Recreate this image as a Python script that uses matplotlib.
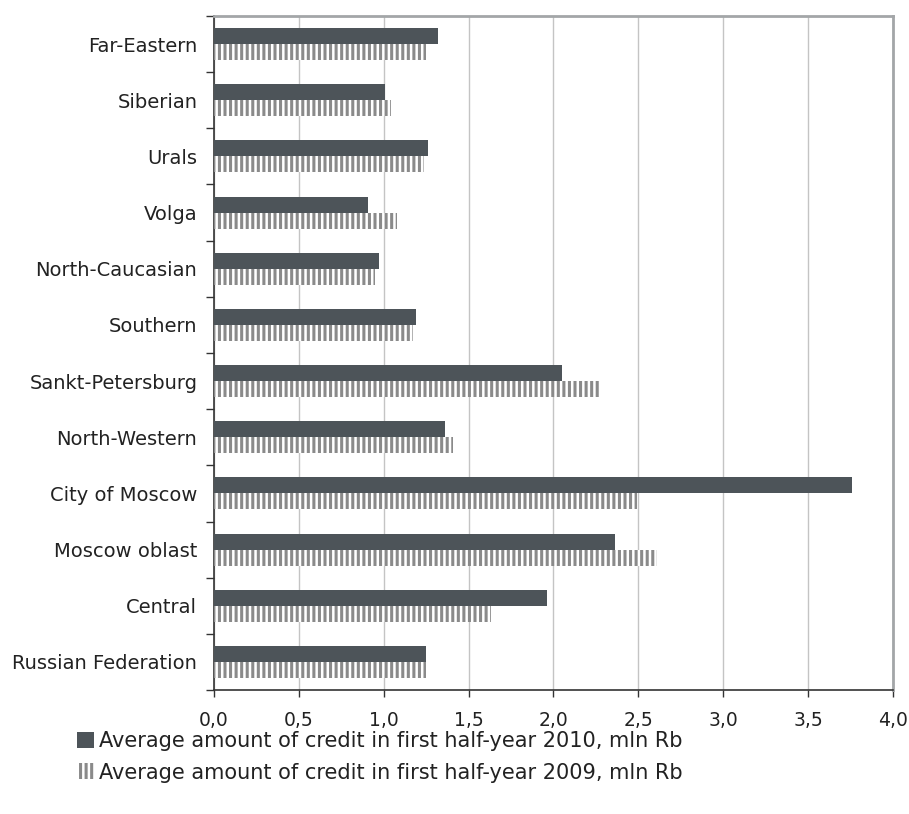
import matplotlib.pyplot as plt
import matplotlib.patches as mpatches
from matplotlib.ticker import MultipleLocator, FuncFormatter
import numpy as np

# Regions listed bottom-to-top (as they stack on the y axis)
regions = ["Russian Federation", "Central", "Moscow oblast", "City of Moscow",
           "North-Western", "Sankt-Petersburg", "Southern", "North-Caucasian",
           "Volga", "Urals", "Siberian", "Far-Eastern"]
credit_2010 = [1.25, 1.96, 2.36, 3.76, 1.36, 2.05, 1.19, 0.97, 0.91, 1.26, 1.01, 1.32]
credit_2009 = [1.25, 1.63, 2.61, 2.49, 1.41, 2.27, 1.17, 0.95, 1.08, 1.24, 1.04, 1.25]

label_2010 = "Average amount of credit in first half-year 2010, mln Rb"
label_2009 = "Average amount of credit in first half-year 2009, mln Rb"

dark = '#4d5459'
stripe = '#8a8a8a'

plt.rcParams['font.family'] = ['DejaVu Sans']
plt.rcParams['hatch.linewidth'] = 2.2

fig = plt.figure(figsize=(9.09, 8.14), dpi=100)
ax = fig.add_axes([0.2354, 0.1523, 0.747, 0.8281])

y = np.arange(len(regions))
h = 0.285

ax.barh(y + h / 2, credit_2010, height=h, color=dark, zorder=3)
ax.barh(y - h / 2, credit_2009, height=h, facecolor='white', edgecolor=stripe,
        hatch='|||', linewidth=0, zorder=3)

ax.set_xlim(0, 4.0)
ax.set_ylim(-0.5, len(regions) - 0.5)

# x axis: 0.5 steps with comma decimals
ax.xaxis.set_major_locator(MultipleLocator(0.5))
ax.xaxis.set_major_formatter(FuncFormatter(lambda v, p: ('%.1f' % v).replace('.', ',')))
ax.grid(axis='x', color='#c4c4c4', linewidth=1.0, zorder=0)
ax.tick_params(axis='x', direction='out', length=5, width=1, color='#333333',
               labelsize=13.5, labelcolor='#222222', pad=10)

# y axis: labels at the centres, tick marks between the regions
ax.set_yticks(y)
ax.set_yticklabels(regions)
ax.set_yticks(np.arange(-0.5, len(regions), 1.0), minor=True)
ax.tick_params(axis='y', which='major', length=0, labelsize=14,
               labelcolor='#222222', pad=12)
ax.tick_params(axis='y', which='minor', direction='out', length=6, width=1,
               color='#333333')

for side in ('left', 'bottom'):
    ax.spines[side].set_color('#333333')
    ax.spines[side].set_linewidth(1.2)
for side in ('top', 'right'):
    ax.spines[side].set_color('#a3a6a8')
    ax.spines[side].set_linewidth(2.0)

# legend underneath the plot
h2010 = mpatches.Patch(facecolor=dark, edgecolor='none')
h2009 = mpatches.Patch(facecolor='white', edgecolor=stripe, hatch='|||', linewidth=0)
fig.legend([h2010, h2009], [label_2010, label_2009],
           loc='upper left', bbox_to_anchor=(0.076, 0.112), frameon=False,
           fontsize=15, handlelength=0.8, handleheight=0.8, handletextpad=0.25,
           labelspacing=0.55, labelcolor='#222222', borderaxespad=0)

fig.savefig('out.png', dpi=100)
